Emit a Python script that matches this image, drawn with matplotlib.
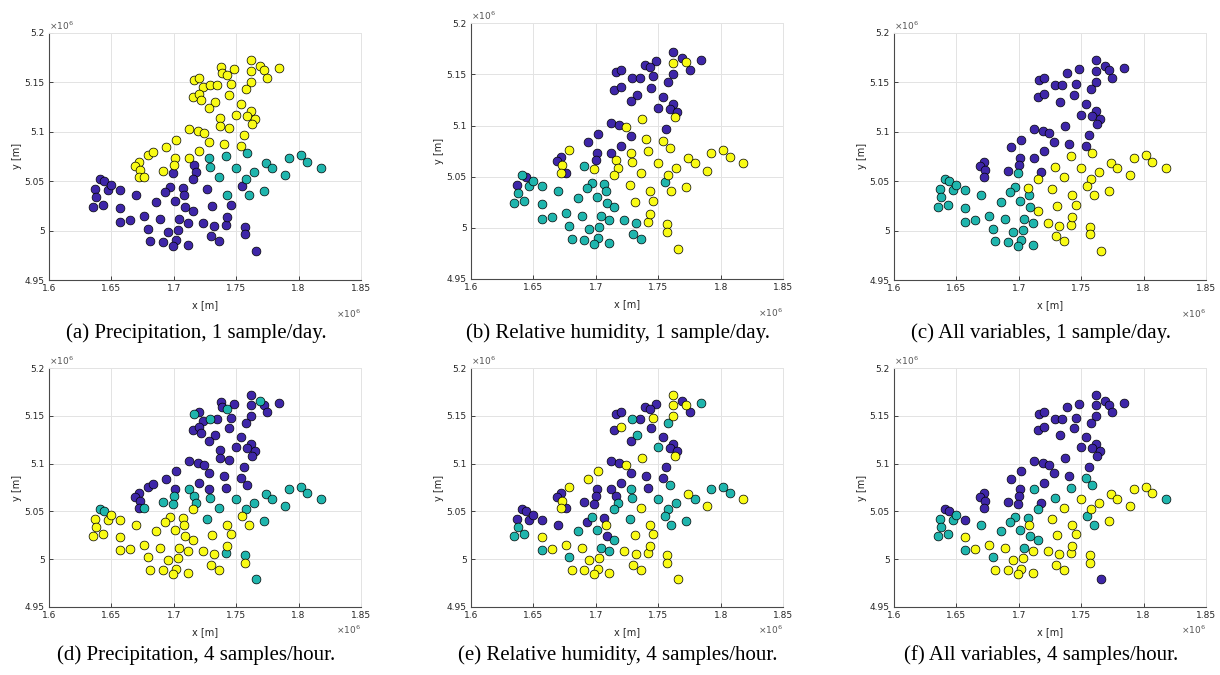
import matplotlib
matplotlib.use("Agg")
import matplotlib.pyplot as plt

# station coordinates, in units of 1e6 m
x = [1.762, 1.738, 1.748, 1.769, 1.772, 1.784, 1.762, 1.739, 1.743, 1.775,
     1.762, 1.716, 1.720, 1.746, 1.723, 1.729, 1.735, 1.758, 1.715, 1.720,
     1.722, 1.744, 1.733, 1.728, 1.754, 1.750, 1.762, 1.759, 1.765, 1.763,
     1.737, 1.737, 1.744, 1.712, 1.719, 1.724, 1.756, 1.702, 1.728, 1.740,
     1.754, 1.694, 1.720, 1.679, 1.683, 1.701, 1.712, 1.672, 1.669, 1.700,
     1.673, 1.691, 1.672, 1.676, 1.759, 1.728, 1.742, 1.729, 1.750, 1.774,
     1.779, 1.792, 1.802, 1.807, 1.818, 1.764, 1.789, 1.736, 1.758, 1.743,
     1.760, 1.772, 1.716, 1.718, 1.699, 1.715, 1.641, 1.644, 1.637, 1.647,
     1.650, 1.657, 1.638, 1.635, 1.643, 1.670, 1.657, 1.697, 1.693, 1.707,
     1.708, 1.727, 1.755, 1.686, 1.701, 1.709, 1.715, 1.731, 1.746, 1.657,
     1.665, 1.676, 1.689, 1.704, 1.711, 1.723, 1.732, 1.742, 1.743, 1.679,
     1.695, 1.703, 1.757, 1.757, 1.730, 1.736, 1.681, 1.691, 1.702, 1.699,
     1.711, 1.766]
y = [5.172, 5.165, 5.163, 5.166, 5.162, 5.164, 5.161, 5.159, 5.157, 5.154,
     5.150, 5.152, 5.154, 5.148, 5.145, 5.147, 5.147, 5.143, 5.135, 5.138,
     5.132, 5.137, 5.130, 5.124, 5.128, 5.117, 5.121, 5.116, 5.113, 5.108,
     5.114, 5.106, 5.104, 5.103, 5.101, 5.099, 5.097, 5.092, 5.090, 5.087,
     5.085, 5.084, 5.080, 5.076, 5.079, 5.073, 5.073, 5.069, 5.065, 5.066,
     5.061, 5.060, 5.054, 5.054, 5.078, 5.073, 5.075, 5.064, 5.063, 5.068,
     5.063, 5.073, 5.076, 5.069, 5.063, 5.059, 5.056, 5.054, 5.052, 5.036,
     5.036, 5.040, 5.066, 5.059, 5.058, 5.052, 5.052, 5.050, 5.042, 5.041,
     5.046, 5.041, 5.034, 5.024, 5.026, 5.036, 5.023, 5.044, 5.039, 5.043,
     5.036, 5.042, 5.045, 5.029, 5.030, 5.024, 5.020, 5.025, 5.026, 5.009,
     5.011, 5.015, 5.012, 5.012, 5.008, 5.008, 5.005, 5.006, 5.014, 5.002,
     4.999, 5.001, 5.004, 4.996, 4.994, 4.989, 4.989, 4.988, 4.990, 4.984,
     4.985, 4.979]

# cluster of each station per panel: p = purple, c = cyan, y = yellow, . = not used
prec_day = ("yyyyyyyyyy yyyyyyyyyy yyyyyyyyyy yyyyyyyyyy yyyyyyyyyy yyyycccccc "
            "cccccccccc ccpppppppp pppppppppp pppppppppp pppppppppp pppppppppp pp")
hum_day = ("p.ppypyppp pppp.ppppp .ppppppppy .y.ppypppy yppy.ppppp ycypyyyyyy "
           "yyyyyyyyyy yyyyyycppc cccccccccc cycccccyyc cccccccyyc ccyycccccc cy")
all_day = ("p.pppppp.p pppp.ppppp .pp.pppppp .p.ppppppp ppp..ppppp ppp.y.yyyy "
           "yyyyyyyyyy yy.pcycccc cccccccccy cyycccyyyc cccccyyyyc ccyyyycccc cy")
prec_hour = ("pppcppppcp pcpppcpppp pppppppppp pppppppppp ppppppcppc pcpcpppccc "
             "cccccccccy yccccyccyy yyyyyyyyyy ycyyyyyyyy yyyyyyycyy yycyyyyyyy yc")
hum_hour = ("y.ppycyppp yppy.cpcpy .pcppcpppy .y.ppypypp pypy.ppppp ypypccpccy "
            "ccccycyycy ccpcpcpppp ppcccpycpp yccccpcyyc yyyccyyyyc yyyyyyyyyy yy")
all_hour = ("p.pppppp.p pppp.ppppp .pp.pppppp .p.ppppppp cpp..pcppp ppp.c.ccyy "
            "yyyycyyyyy cy.ppcppcc cpccccyccc yycccccyyc yyycyyyyyc yyyyyyyyyy yp")

captions = ["(a) Precipitation, 1 sample/day.",
            "(b) Relative humidity, 1 sample/day.",
            "(c) All variables, 1 sample/day.",
            "(d) Precipitation, 4 samples/hour.",
            "(e) Relative humidity, 4 samples/hour.",
            "(f) All variables, 4 samples/hour."]
panels = [prec_day, hum_day, all_day, prec_hour, hum_hour, all_hour]

colors = {"p": "#3e26a8", "c": "#1fb5ad", "y": "#f9fb15"}
ticks = [1.6, 1.65, 1.7, 1.75, 1.8, 1.85]
yticks = [4.95, 5.0, 5.05, 5.1, 5.15, 5.2]

W, H = 1220, 675
# axes boxes in pixels: left, top, right, bottom
boxes = [(49, 32.7, 361, 280), (470.7, 23.3, 783.3, 279), (894, 32.7, 1206, 280),
         (49, 368.3, 361, 606.7), (470.7, 368.3, 783.3, 606.7), (894, 368.3, 1206, 606.7)]
cap_x = [196, 618, 1041]
cap_y = [333, 655]
exp_dy = [34, 23]  # offset of the lower x10^6 label below each row

fig = plt.figure(figsize=(W / 100, H / 100), dpi=100)
grey = "#262626"

for i, (labels, box, cap) in enumerate(zip(panels, boxes, captions)):
    lab = labels.replace(" ", "")
    l, t, r, b = box
    ax = fig.add_axes([l / W, 1 - b / H, (r - l) / W, (b - t) / H])
    for k in ["p", "c", "y"]:
        xs = [x[j] for j in range(len(x)) if lab[j] == k]
        ys = [y[j] for j in range(len(y)) if lab[j] == k]
        ax.scatter(xs, ys, s=40, c=colors[k], edgecolors="black", linewidths=0.5, zorder=3)
    ax.set_xlim(1.6, 1.85)
    ax.set_ylim(4.95, 5.2)
    ax.set_xticks(ticks)
    ax.set_yticks(yticks)
    ax.set_xticklabels(["%g" % v for v in ticks])
    ax.set_yticklabels(["%g" % v for v in yticks])
    ax.tick_params(direction="in", length=3, width=0.6, labelsize=6.5, colors=grey, pad=3)
    ax.grid(True, color="#e3e3e3", linewidth=0.7)
    ax.set_axisbelow(True)
    for s in ["top", "right"]:
        ax.spines[s].set_color("#e3e3e3")
        ax.spines[s].set_linewidth(0.7)
    for s in ["left", "bottom"]:
        ax.spines[s].set_color("#4a4a4a")
        ax.spines[s].set_linewidth(0.8)

    cx = (l + r) / 2
    fig.text(cx / W, 1 - (b + 25) / H, "x [m]", ha="center", va="center", fontsize=7, color=grey)
    fig.text((l - 32) / W, 1 - ((t + b) / 2) / H, "y [m]", ha="center", va="center",
             rotation=90, fontsize=7, color=grey)
    fig.text(l / W, 1 - (t - 1) / H, r"$\times10^{6}$", ha="left", va="bottom",
             fontsize=6.5, color="#555555")
    fig.text(r / W, 1 - (b + exp_dy[i // 3]) / H, r"$\times10^{6}$", ha="right", va="center",
             fontsize=6.5, color="#555555")
    fig.text(cap_x[i % 3] / W, 1 - cap_y[i // 3] / H, cap, ha="center", va="center",
             fontsize=15, family="Liberation Serif", color="black")

fig.savefig("out.png", dpi=100)
